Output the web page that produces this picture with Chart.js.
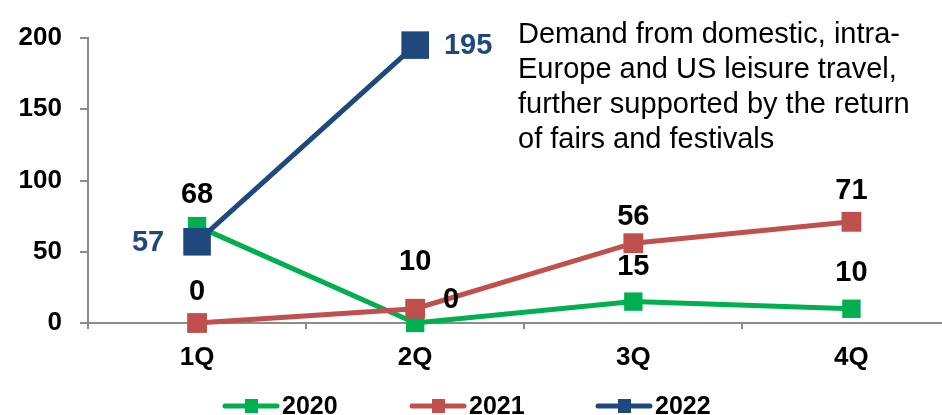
<!DOCTYPE html>
<html>
<head>
<meta charset="utf-8">
<script src="https://cdn.jsdelivr.net/npm/chart.js@4/dist/chart.umd.min.js"></script>
<style>
  html, body { margin: 0; padding: 0; background: #fff; overflow: hidden; }
  #wrap { position: relative; width: 942px; height: 415px; overflow: hidden; }
  #grafica { display: block; }
  #nota {
    position: absolute; left: 518px; top: 16px;
    font-family: "Liberation Sans", Arial, sans-serif; font-size: 29px;
    line-height: 35px; color: #000; white-space: nowrap;
  }
</style>
</head>
<body>
<div id="wrap">
  <canvas id="grafica" width="980" height="415" style="width:980px;height:415px"></canvas>
  <div id="nota">Demand from domestic, intra-<br>Europe and US leisure travel,<br>further supported by the return<br>of fairs and festivals</div>
</div>
<script>
// datos
const trimestres = ["1Q", "2Q", "3Q", "4Q"];
const serie2020 = [68, 0, 15, 10];
const serie2021 = [0, 10, 56, 71];
const serie2022 = [57, 195];
const ticksY = [0, 50, 100, 150, 200];

// desplazamiento de cada etiqueta respecto a su punto
const desplazamientos = [
  [[0, -31], [36, -23], [0, -35], [0, -36]],
  [[0, -31], [0, -47], [0, -26], [0, -31]],
  [[-49, 1], [53, 1]],
];
const colorEtiqueta = ["#000", "#000", "#1F497D"];

const fuente = '"Liberation Sans", Arial, sans-serif';
const gris = "#8c8c8c";

// etiquetas de valor sobre los puntos
const pluginEtiquetas = {
  id: "etiquetas",
  afterDatasetsDraw(chart) {
    const ctx = chart.ctx;
    ctx.save();
    ctx.font = "bold 29px " + fuente;
    ctx.textAlign = "center";
    ctx.textBaseline = "middle";
    chart.data.datasets.forEach((ds, i) => {
      const meta = chart.getDatasetMeta(i);
      meta.data.forEach((p, j) => {
        const off = desplazamientos[i][j];
        ctx.fillStyle = colorEtiqueta[i];
        ctx.fillText(String(ds.data[j]), p.x + off[0], p.y + off[1]);
      });
    });
    ctx.restore();
  },
};

// leyenda abajo con linea + cuadrado
const pluginLeyenda = {
  id: "leyendaAbajo",
  afterDraw(chart) {
    const ctx = chart.ctx;
    const xs = [225, 412, 598];
    const y = 406;
    ctx.save();
    chart.data.datasets.forEach((ds, i) => {
      const x = xs[i];
      ctx.strokeStyle = ds.borderColor;
      ctx.lineWidth = 5;
      ctx.lineCap = "round";
      ctx.beginPath();
      ctx.moveTo(x, y);
      ctx.lineTo(x + 52, y);
      ctx.stroke();
      ctx.fillStyle = ds.borderColor;
      ctx.fillRect(x + 20, y - 7, 13, 14);
      ctx.fillStyle = "#000";
      ctx.font = "bold 25px " + fuente;
      ctx.textBaseline = "middle";
      ctx.fillText(ds.label, x + 57, y + 1);
    });
    ctx.restore();
  },
};

const ctx = document.getElementById("grafica").getContext("2d");

new Chart(ctx, {
  type: "line",
  data: {
    labels: trimestres,
    datasets: [
      {
        label: "2020",
        data: serie2020,
        borderColor: "#00B050",
        backgroundColor: "#00B050",
        borderWidth: 5,
        pointStyle: "rect",
        pointRadius: 13,
        pointBorderWidth: 0,
        clip: false,
        order: 3,
      },
      {
        label: "2021",
        data: serie2021,
        borderColor: "#C0504D",
        backgroundColor: "#C0504D",
        borderWidth: 5,
        pointStyle: "rect",
        pointRadius: 14,
        pointBorderWidth: 0,
        clip: false,
        order: 2,
      },
      {
        label: "2022",
        data: serie2022,
        borderColor: "#1F497D",
        backgroundColor: "#1F497D",
        borderWidth: 5,
        pointStyle: "rect",
        pointRadius: 19.5,
        pointBorderWidth: 0,
        clip: false,
        order: 1,
      },
    ],
  },
  options: {
    responsive: false,
    animation: false,
    layout: { padding: { top: 38, left: 0, right: 4, bottom: 32 } },
    plugins: { legend: { display: false }, tooltip: { enabled: false } },
    scales: {
      x: {
        offset: true,
        grid: { offset: true, drawOnChartArea: false, tickLength: 6, color: gris, lineWidth: 2 },
        border: { color: gris, width: 2 },
        ticks: { color: "#000", padding: 13, font: { family: fuente, size: 26, weight: "bold" } },
        afterFit(s) { s.height = 60; },
      },
      y: {
        min: 0,
        max: 200,
        afterBuildTicks(s) { s.ticks = ticksY.map((v) => ({ value: v })); },
        grid: { drawOnChartArea: false, tickLength: 8, color: gris, lineWidth: 2 },
        border: { color: gris, width: 2 },
        ticks: { color: "#000", padding: 18, font: { family: fuente, size: 26, weight: "bold" } },
        afterFit(s) { s.width = 88; },
      },
    },
  },
  plugins: [pluginEtiquetas, pluginLeyenda],
});
</script>
</body>
</html>
